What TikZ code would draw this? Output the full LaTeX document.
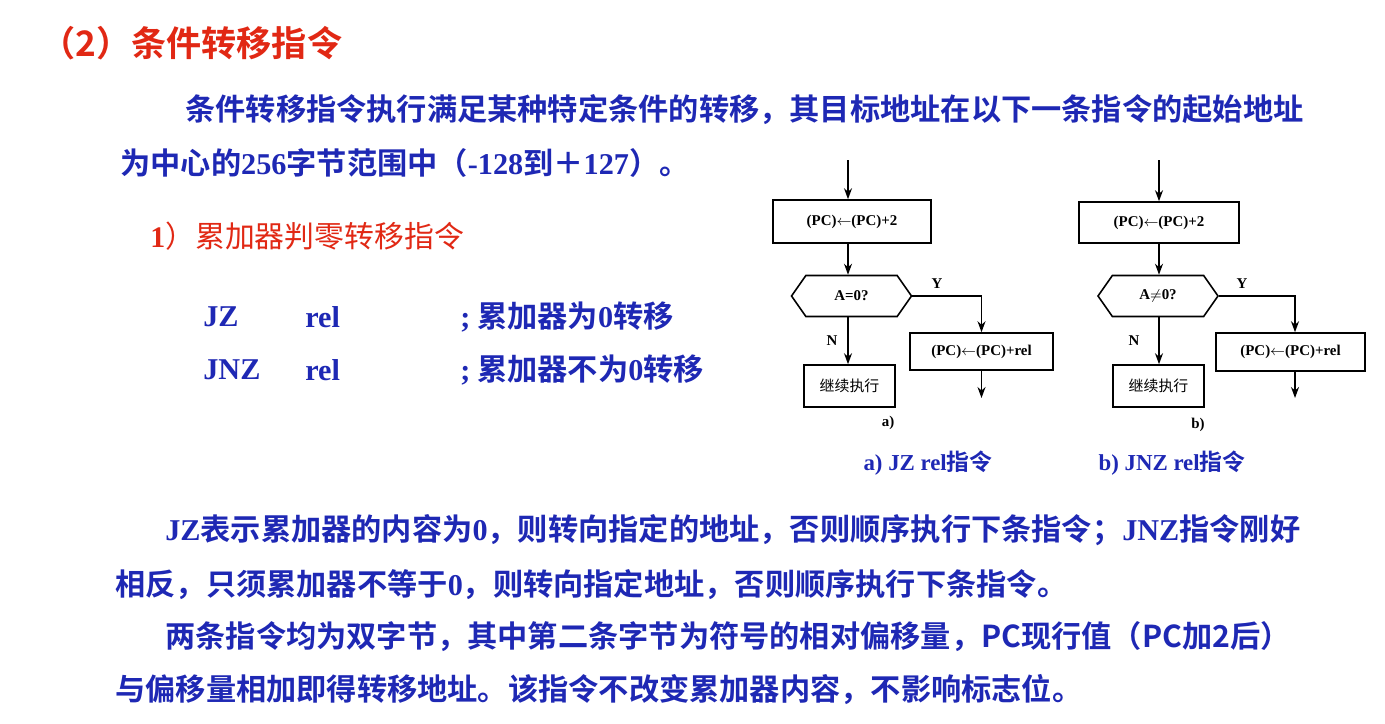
\documentclass[tikz,border=0pt]{standalone}
\usepackage{fontspec}
\setmainfont{Liberation Serif}
\newfontfamily\cjk{Noto Sans CJK SC}[BoldFont={* Bold}]
\usetikzlibrary{shapes.symbols,arrows.meta}
\definecolor{slideblue}{RGB}{30,40,180}
\definecolor{slidered}{RGB}{225,40,20}
\newcommand{\lat}[1]{{\rmfamily\bfseries #1}}
\tikzset{
    bodytext/.style = {
        anchor=west,
        inner sep=0pt,
        text=slideblue,
        font=\cjk\bfseries\fontsize{17.2}{20}\selectfont
    },
    flowbox/.style = {
        draw=black,
        line width=0.9pt,
        rectangle,
        inner sep=0pt,
        font=\bfseries\fontsize{8.5}{10}\selectfont
    },
    testnode/.style = {
        flowbox,
        signal,
        signal to=east and west,
        signal pointer angle=110,
        minimum width=2.4cm,
        minimum height=0.82cm
    },
    flowline/.style = {
        line width=0.9pt,
        -{Stealth[length=2.2mm,width=1.6mm]}
    },
    flowlabel/.style = {
        font=\bfseries\fontsize{8.5}{10}\selectfont
    }
}
\begin{document}
\begin{tikzpicture}[x=0.02cm,y=-0.02cm]
    \useasboundingbox (0,0) rectangle (1385,723);
    % texts
    \node [bodytext, text=slidered, font=\cjk\bfseries\fontsize{20}{24}\selectfont] (title) at (40,43) {（2）条件转移指令};
    \node [bodytext] (para1) at (185,110) {条件转移指令执行满足某种特定条件的转移，其目标地址在以下一条指令的起始地址};
    \node [bodytext] (para2) at (120,163) {为中心的\lat{256}字节范围中（\lat{-128}到＋\lat{127}）。};
    \node [bodytext, text=slidered, font=\cjk\fontsize{17}{20}\selectfont] (sub) at (150,236) {\lat{1}）累加器判零转移指令};
    \node [bodytext] (jz) at (203,317) {\lat{JZ}};
    \node [bodytext] (jzrel) at (305,317) {\lat{rel}};
    \node [bodytext] (jzcmt) at (460,317) {\lat{;} 累加器为\lat{0}转移};
    \node [bodytext] (jnz) at (203,370) {\lat{JNZ}};
    \node [bodytext] (jnzrel) at (305,370) {\lat{rel}};
    \node [bodytext] (jnzcmt) at (460,370) {\lat{;} 累加器不为\lat{0}转移};
    \node [bodytext] (line1) at (165,530) {\lat{JZ}表示累加器的内容为\lat{0}，则转向指定的地址，否则顺序执行下条指令；\lat{JNZ}指令刚好};
    \node [bodytext] (line2) at (115,585) {相反，只须累加器不等于\lat{0}，则转向指定地址，否则顺序执行下条指令。};
    \node [bodytext] (line3) at (165,637) {两条指令均为双字节，其中第二条字节为符号的相对偏移量，PC现行值（PC加2后）};
    \node [bodytext] (line4) at (115,690) {与偏移量相加即得转移地址。该指令不改变累加器内容，不影响标志位。};
    % flowchart a
    \coordinate (a-in) at (848,160);
    \node [flowbox, minimum width=3.16cm, minimum height=0.86cm] (a-inc) at (852,221.5) {(PC)$\leftarrow$(PC)+2};
    \node [testnode] (a-test) at (851.5,296) {A=0?};
    \node [flowbox, minimum width=2.86cm, minimum height=0.74cm] (a-jump) at (981.5,351.5) {(PC)$\leftarrow$(PC)+rel};
    \node [flowbox, minimum width=1.82cm, minimum height=0.84cm, font=\cjk\fontsize{8.5}{10}\selectfont] (a-next) at (849.5,386) {继续执行};
    \coordinate (a-out) at (981.5,398);
    \draw [flowline] (a-in) -- (a-inc.north -| a-in);
    \draw [flowline] (a-inc.south -| a-in) -- (a-test.north -| a-in);
    \draw [flowline] (a-test.east) -| (a-jump.north);
    \draw [flowline] (a-test.south -| a-in) -- (a-next.north -| a-in);
    \draw [flowline] (a-jump.south) -- (a-out);
    \node [flowlabel] (a-y) at (937,284) {Y};
    \node [flowlabel] (a-n) at (832,341) {N};
    \node [flowlabel] (a-tag) at (888,423) {a)};
    \node [bodytext, anchor=center, font=\bfseries\fontsize{13}{15}\selectfont] (a-cap) at (928,463) {a) JZ rel{\cjk 指令}};
    % flowchart b
    \coordinate (b-in) at (1159,160);
    \node [flowbox, minimum width=3.2cm, minimum height=0.82cm] (b-inc) at (1159,222.5) {(PC)$\leftarrow$(PC)+2};
    \node [testnode] (b-test) at (1158,296) {A$\neq$0?};
    \node [flowbox, minimum width=2.98cm, minimum height=0.76cm] (b-jump) at (1290.5,352) {(PC)$\leftarrow$(PC)+rel};
    \node [flowbox, minimum width=1.82cm, minimum height=0.84cm, font=\cjk\fontsize{8.5}{10}\selectfont] (b-next) at (1158.5,386) {继续执行};
    \coordinate (b-out) at (1295,398);
    \draw [flowline] (b-in) -- (b-inc.north -| b-in);
    \draw [flowline] (b-inc.south -| b-in) -- (b-test.north -| b-in);
    \draw [flowline] (b-test.east) -| (b-out |- b-jump.north);
    \draw [flowline] (b-test.south -| b-in) -- (b-next.north -| b-in);
    \draw [flowline] (b-out |- b-jump.south) -- (b-out);
    \node [flowlabel] (b-y) at (1242,284) {Y};
    \node [flowlabel] (b-n) at (1134,341) {N};
    \node [flowlabel] (b-tag) at (1198,425) {b)};
    \node [bodytext, anchor=center, font=\bfseries\fontsize{13}{15}\selectfont] (b-cap) at (1172,463) {b) JNZ rel{\cjk 指令}};
\end{tikzpicture}
\end{document}
